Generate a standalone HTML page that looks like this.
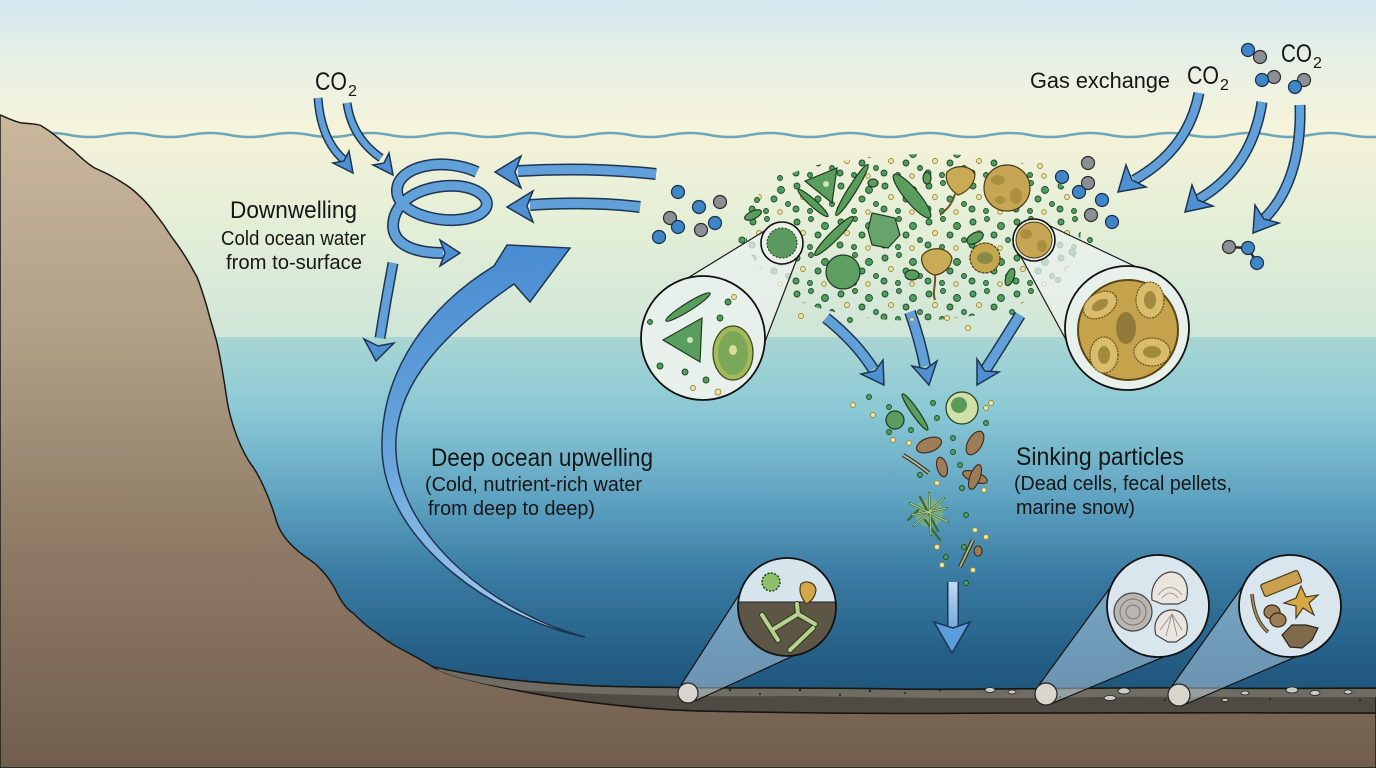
<!DOCTYPE html>
<html><head><meta charset="utf-8"><style>
html,body{margin:0;padding:0;background:#fff}
svg{display:block}
text{font-family:"Liberation Sans",sans-serif;fill:#161616}
.so{fill:none;stroke:#1d3550}
.si{fill:none;stroke:#62a0da}
.hd{fill:#4f90d2;stroke:#1d3550;stroke-width:1.5;stroke-linejoin:miter}
.mb{fill:#3f86c9;stroke:#1a2e48;stroke-width:1.2}
.mg{fill:#8c9096;stroke:#2a2a2a;stroke-width:1.2}
.gd{fill:#4f9d5c;stroke:#1f4a2a;stroke-width:.9}
.yd{fill:#ece4a8;stroke:#9a8a3a;stroke-width:.9}
.org{fill:#5a9e5e;stroke:#1e3a22;stroke-width:1.2}
.yel{fill:#c9ab55;stroke:#4a3a15;stroke-width:1.2}
.br{fill:#9c7d56;stroke:#3a2a1a;stroke-width:1.1}
</style></head><body>
<svg width="1376" height="768" viewBox="0 0 1376 768" xmlns="http://www.w3.org/2000/svg">
<defs>
<linearGradient id="sky" x1="0" y1="0" x2="0" y2="137" gradientUnits="userSpaceOnUse">
<stop offset="0" stop-color="#d3e7ef"/><stop offset=".45" stop-color="#e7f0e4"/><stop offset="1" stop-color="#f7f4da"/></linearGradient>
<linearGradient id="uw" x1="0" y1="135" x2="0" y2="337" gradientUnits="userSpaceOnUse">
<stop offset="0" stop-color="#f3f2d8"/><stop offset=".5" stop-color="#e2eed7"/><stop offset="1" stop-color="#cfe5d8"/></linearGradient>
<linearGradient id="dw" x1="0" y1="337" x2="0" y2="700" gradientUnits="userSpaceOnUse">
<stop offset="0" stop-color="#a9d6d4"/><stop offset=".2" stop-color="#8bc9d5"/><stop offset=".45" stop-color="#5ea2c1"/><stop offset=".65" stop-color="#3a7ca3"/><stop offset=".85" stop-color="#27628a"/><stop offset="1" stop-color="#1e5379"/></linearGradient>
<linearGradient id="land" x1="0" y1="100" x2="0" y2="768" gradientUnits="userSpaceOnUse">
<stop offset="0" stop-color="#ccb99e"/><stop offset=".35" stop-color="#b19f86"/><stop offset=".68" stop-color="#8d7964"/><stop offset="1" stop-color="#725e4d"/></linearGradient>
<linearGradient id="bigA" x1="585" y1="637" x2="540" y2="250" gradientUnits="userSpaceOnUse">
<stop offset="0" stop-color="#a8cdec"/><stop offset=".5" stop-color="#6aa6dc"/><stop offset="1" stop-color="#4b8dd2"/></linearGradient>
<linearGradient id="botA" x1="0" y1="580" x2="0" y2="640" gradientUnits="userSpaceOnUse">
<stop offset="0" stop-color="#c4def2"/><stop offset="1" stop-color="#5d9ddb"/></linearGradient>
<pattern id="dots" width="44" height="36" patternUnits="userSpaceOnUse">
<circle class="gd" cx="5" cy="6" r="3"/><circle class="gd" cx="19" cy="3" r="2.5"/><circle class="gd" cx="33" cy="10" r="3.5"/>
<circle class="yd" cx="11" cy="17" r="2.5"/><circle class="gd" cx="26" cy="19" r="3"/><circle class="gd" cx="40" cy="24" r="2.5"/>
<circle class="gd" cx="4" cy="29" r="3"/><circle class="gd" cx="18" cy="31" r="2.5"/><circle class="yd" cx="32" cy="32" r="2.3"/>
</pattern>
<clipPath id="c1"><circle cx="787" cy="607" r="49"/></clipPath>
</defs>

<!-- background -->
<rect x="0" y="0" width="1376" height="137" fill="url(#sky)"/>
<rect x="0" y="135" width="1376" height="202" fill="url(#uw)"/>
<rect x="0" y="337" width="1376" height="380" fill="url(#dw)"/>

<!-- wave -->
<path d="M30,135 q20,-4 40,0 t40,0 t40,0 t40,0 t40,0 t40,0 t40,0 t40,0 t40,0 t40,0 t40,0 t40,0 t40,0 t40,0 t40,0 t40,0 t40,0 t40,0 t40,0 t40,0 t40,0 t40,0 t40,0 t40,0 t40,0 t40,0 t40,0 t40,0 t40,0 t40,0 t40,0 t40,0 t40,0 t40,0" fill="none" stroke="#6aa8b8" stroke-width="2.5"/>

<!-- land -->
<path d="M0,115 C10,119 18,123 23,123 C33,124 40,124 43,127 C50,131 52,133 57,137 C63,142 68,147 73,150 C80,157 87,163 93,167 C100,171 107,173 113,177 C120,181 127,185 133,190 C140,196 145,201 150,207 C156,215 162,222 167,230 C172,238 178,245 183,253 C189,262 193,270 197,277 C201,287 204,297 207,307 C210,319 214,331 217,343 C221,360 224,380 227,400 C230,420 240,450 253,467 C262,480 272,505 277,523 C283,540 298,552 310,560 C322,568 332,582 337,593 C342,603 348,610 353,613 C362,622 370,629 377,633 C385,640 395,646 403,650 C412,655 422,660 433,667 L446,673 C500,690 600,708 700,711 C800,713 900,714 1000,713 C1100,712 1250,713 1376,713 L1376,768 L0,768 Z" fill="url(#land)" stroke="#1a1a1a" stroke-width="1.5"/>
<!-- sediment -->
<path d="M433,667 C470,675 520,683 600,686 C700,689 800,687 900,689 C1000,690 1100,687 1200,688 C1300,689 1340,688 1376,688 L1376,713 C1250,713 1100,712 1000,713 C900,714 800,713 700,711 C600,708 500,690 446,673 Z" fill="#4f4b43" stroke="#151515" stroke-width="1.5"/>
<path d="M436,668 C470,676 520,684 600,687 C700,690 800,688 900,690 C1000,691 1100,688 1200,689 C1300,690 1340,689 1376,689 L1376,697 C1300,698 1200,696 1100,697 C1000,699 900,698 800,696 C700,697 600,695 520,690 C480,684 455,677 440,671 Z" fill="#716c62"/>
<g fill="#cfcbc3" stroke="#222" stroke-width=".8">
<ellipse cx="990" cy="690" rx="5" ry="2.5"/><ellipse cx="1012" cy="692" rx="4" ry="2"/><ellipse cx="1110" cy="698" rx="6" ry="2.5"/><ellipse cx="1124" cy="691" rx="6" ry="3"/><ellipse cx="1245" cy="693" rx="4" ry="2"/><ellipse cx="1292" cy="690" rx="6" ry="3"/><ellipse cx="1315" cy="693" rx="5" ry="2.5"/><ellipse cx="1348" cy="692" rx="4" ry="2"/><ellipse cx="1225" cy="700" rx="3" ry="1.5"/>
</g>
<g fill="#222"><circle cx="730" cy="690" r="1.2"/><circle cx="760" cy="694" r="1"/><circle cx="800" cy="690" r="1.2"/><circle cx="840" cy="695" r="1"/><circle cx="870" cy="691" r="1.2"/><circle cx="905" cy="693" r="1"/><circle cx="940" cy="690" r="1.2"/><circle cx="1060" cy="697" r="1"/><circle cx="1165" cy="700" r="1"/><circle cx="1270" cy="699" r="1"/><circle cx="1360" cy="700" r="1"/></g>

<!-- big upwelling arrow -->
<path d="M585,637 C500,620 385,545 382,450 C380,370 430,305 494,266 L507,245 L570,248 L530,302 L514,284 C455,325 392,380 396,452 C400,540 500,615 585,637 Z" fill="url(#bigA)" stroke="#1d3550" stroke-width="1.5" stroke-linejoin="miter"/>

<!-- CO2 left arrows -->
<path class="so" stroke-width="9" d="M318,98 Q321,140 344,160"/><path class="si" stroke-width="6" d="M318,98 Q321,140 344,160"/>
<polygon class="hd" points="353,173 349,151 344,161 333,163"/>
<path class="so" stroke-width="9" d="M347,103 Q352,138 381,158"/><path class="si" stroke-width="6" d="M347,103 Q352,138 381,158"/>
<polygon class="hd" points="393,175 389,153 384,163 373,165"/>

<!-- spiral -->
<path class="so" stroke-width="12" d="M477,172 C445,157 398,165 397,190 C396,215 450,228 478,215 C500,203 478,183 445,186 C412,189 394,205 393,225 C393,245 415,253 443,253"/>
<path class="si" stroke-width="9" d="M477,172 C445,157 398,165 397,190 C396,215 450,228 478,215 C500,203 478,183 445,186 C412,189 394,205 393,225 C393,245 415,253 443,253"/>
<polygon class="hd" points="460,253 440,240 445,253 440,266"/>

<!-- down arrow -->
<path class="so" stroke-width="11" d="M393,263 Q386,300 380,338"/><path class="si" stroke-width="8" d="M393,263 Q386,300 380,338"/>
<polygon class="hd" points="376,361 394,343 378,346 364,339"/>

<!-- left pointing arrows -->
<path class="so" stroke-width="12" d="M656,174 Q590,167 518,171"/><path class="si" stroke-width="9" d="M656,174 Q590,167 518,171"/>
<polygon class="hd" points="495,172 521,156 515,172 521,188"/>
<path class="so" stroke-width="12" d="M640,207 Q590,201 530,205"/><path class="si" stroke-width="9" d="M640,207 Q590,201 530,205"/>
<polygon class="hd" points="507,207 533,191 527,206 533,222"/>

<!-- right CO2 arrows -->
<path class="so" stroke-width="11" d="M1199,93 Q1188,150 1134,180"/><path class="si" stroke-width="8" d="M1199,93 Q1188,150 1134,180"/>
<polygon class="hd" points="1118,192 1146,187 1132,180 1126,165"/>
<path class="so" stroke-width="11" d="M1262,102 Q1252,168 1199,199"/><path class="si" stroke-width="8" d="M1262,102 Q1252,168 1199,199"/>
<polygon class="hd" points="1185,212 1213,206 1198,200 1192,185"/>
<path class="so" stroke-width="11" d="M1300,105 Q1302,180 1265,218"/><path class="si" stroke-width="8" d="M1300,105 Q1302,180 1265,218"/>
<polygon class="hd" points="1253,233 1279,223 1264,219 1255,205"/>

<!-- sinking arrows -->
<path class="so" stroke-width="12" d="M826,318 Q856,342 873,369"/><path class="si" stroke-width="9" d="M826,318 Q856,342 873,369"/>
<polygon class="hd" points="884,385 883,360 875,371 861,374"/>
<path class="so" stroke-width="12" d="M910,312 Q920,340 925,366"/><path class="si" stroke-width="9" d="M910,312 Q920,340 925,366"/>
<polygon class="hd" points="929,385 937,361 926,369 912,366"/>
<path class="so" stroke-width="12" d="M1020,315 Q1002,344 986,369"/><path class="si" stroke-width="9" d="M1020,315 Q1002,344 986,369"/>
<polygon class="hd" points="977,385 999,372 985,371 977,359"/>
<path stroke="#1d3550" stroke-width="12" fill="none" d="M953,582 L953,628"/><path stroke="url(#botA)" stroke-width="9" fill="none" d="M953,582 L953,628"/>
<polygon class="hd" points="952,653 970,622 953,628 934,622" style="fill:#5d9ddb"/>

<!-- molecules -->
<g>
<circle class="mb" cx="678" cy="192" r="6.5"/><circle class="mb" cx="699" cy="207" r="6.5"/><circle class="mg" cx="720" cy="202" r="6.5"/><circle class="mb" cx="715" cy="223" r="6.5"/><circle class="mg" cx="670" cy="218" r="6.5"/><circle class="mb" cx="678" cy="227" r="6.5"/><circle class="mg" cx="701" cy="230" r="6.5"/><circle class="mb" cx="659" cy="237" r="6.5"/>
<circle class="mg" cx="1088" cy="163" r="6.5"/><circle class="mb" cx="1062" cy="177" r="6.5"/><circle class="mg" cx="1088" cy="183" r="6.5"/><circle class="mb" cx="1079" cy="192" r="6.5"/><circle class="mb" cx="1102" cy="200" r="6.5"/><circle class="mg" cx="1091" cy="215" r="6.5"/><circle class="mb" cx="1112" cy="222" r="6.5"/>
<circle class="mg" cx="1260" cy="57" r="6.5"/><circle class="mb" cx="1248" cy="50" r="6.5"/><circle class="mg" cx="1274" cy="77" r="6.5"/><circle class="mb" cx="1262" cy="80" r="6.5"/><circle class="mg" cx="1304" cy="80" r="6.5"/><circle class="mb" cx="1295" cy="87" r="6.5"/>
<path d="M1229,247 L1248,248 L1257,263" stroke="#2a2a2a" stroke-width="2.5" fill="none"/>
<circle class="mg" cx="1229" cy="247" r="6.5"/><circle class="mb" cx="1248" cy="248" r="6.5"/><circle class="mb" cx="1257" cy="263" r="6.5"/>
</g>

<!-- plankton cluster dots -->
<path d="M745,220 C750,190 790,165 850,160 C900,152 960,152 1010,160 C1050,168 1075,190 1080,215 C1085,250 1070,280 1030,300 C990,318 920,325 870,318 C820,312 785,300 770,280 C755,265 742,245 745,220 Z" fill="url(#dots)"/>
<g class="gd"><circle cx="742" cy="240" r="3"/><circle cx="757" cy="200" r="2.5"/><circle cx="780" cy="178" r="2.5"/><circle cx="1090" cy="240" r="2.5"/><circle cx="1072" cy="252" r="3"/><circle cx="1058" cy="280" r="2.5"/><circle cx="850" cy="320" r="2.5"/><circle cx="1012" cy="312" r="2.5"/></g>
<g class="yd"><circle cx="801" cy="316" r="2.5"/><circle cx="947" cy="318" r="2.5"/><circle cx="968" cy="328" r="2.5"/><circle cx="1040" cy="166" r="2.5"/></g>

<!-- cone top-left -->
<polygon points="766,230 798,256 751,378 655,298" fill="#eaf2ee" fill-opacity=".75"/>
<line x1="766" y1="230" x2="655" y2="298" stroke="#1a1a1a" stroke-width="1.2"/>
<line x1="798" y1="256" x2="751" y2="378" stroke="#1a1a1a" stroke-width="1.2"/>
<!-- cone top-right -->
<polygon points="1048,225 1020,255 1084,373 1170,283" fill="#eaf2ee" fill-opacity=".75"/>
<line x1="1048" y1="225" x2="1170" y2="283" stroke="#1a1a1a" stroke-width="1.2"/>
<line x1="1020" y1="255" x2="1084" y2="373" stroke="#1a1a1a" stroke-width="1.2"/>

<!-- big organisms -->
<polygon class="org" points="805,181 837,168 832,203"/><circle cx="826" cy="184" r="3" fill="#cfe4b8"/>
<ellipse class="org" cx="813" cy="203" rx="20" ry="3.5" transform="rotate(42 813 203)"/>
<ellipse class="org" cx="852" cy="190" rx="30" ry="4" transform="rotate(-58 852 190)"/>
<ellipse class="org" cx="834" cy="236" rx="27" ry="4.5" transform="rotate(-45 834 236)"/>
<ellipse class="org" cx="912" cy="196" rx="28" ry="7" transform="rotate(50 912 196)"/>
<ellipse class="org" cx="753" cy="215" rx="9" ry="4" transform="rotate(-25 753 215)"/>
<ellipse class="org" cx="873" cy="183" rx="5" ry="4"/><ellipse class="org" cx="927" cy="178" rx="4" ry="6"/>
<ellipse class="org" cx="912" cy="275" rx="7" ry="5"/><ellipse class="org" cx="975" cy="238" rx="9" ry="5" transform="rotate(-30 975 238)"/>
<ellipse class="org" cx="1010" cy="277" rx="4" ry="9" transform="rotate(20 1010 277)"/>
<circle class="org" cx="843" cy="272" r="17" style="fill:#5f9e63"/>
<polygon class="org" points="872,213 895,218 900,235 888,248 872,245 868,230" style="fill:#67a36a"/>
<path class="yel" d="M947,172 C955,164 972,165 975,175 C974,186 965,193 958,195 C950,190 944,180 947,172 Z"/>
<path d="M955,194 C952,205 946,210 940,215" stroke="#6a5520" stroke-width="2" fill="none"/>
<path class="yel" d="M922,256 C928,246 948,246 952,258 C951,268 942,275 934,275 C926,272 920,264 922,256 Z"/>
<path d="M935,275 C936,285 932,292 935,300" stroke="#6a5520" stroke-width="2" fill="none"/>
<circle class="yel" cx="1007" cy="188" r="23" style="fill:#c6a654"/>
<ellipse cx="998" cy="180" rx="7" ry="5" fill="#a8903f"/><ellipse cx="1016" cy="196" rx="6" ry="8" fill="#a8903f"/><ellipse cx="1000" cy="200" rx="5" ry="4" fill="#a8903f"/>
<circle class="yel" cx="985" cy="258" r="15" style="fill:#c4a850;stroke-dasharray:3 1"/><ellipse cx="985" cy="258" rx="8" ry="6" fill="#8a8a45"/>
<!-- small source circles -->
<circle cx="782" cy="243" r="21" fill="#e9f0e6" stroke="#111" stroke-width="1.6"/><circle cx="782" cy="243" r="15" fill="#5a9a5e" stroke="#1e3a22" stroke-width="1" stroke-dasharray="2 1.5"/>
<circle cx="1034" cy="240" r="21" fill="#e9f0e6" stroke="#111" stroke-width="1.6"/><circle cx="1034" cy="240" r="18" fill="#c6a654" stroke="#4a3a15" stroke-width="1"/>
<ellipse cx="1026" cy="234" rx="6" ry="5" fill="#a8903f"/><ellipse cx="1042" cy="246" rx="5" ry="6" fill="#a8903f"/>

<!-- big magnifier left -->
<circle cx="703" cy="338" r="62" fill="#e7f0ea" stroke="#111" stroke-width="1.8"/>
<ellipse class="org" cx="688" cy="307" rx="26" ry="4" transform="rotate(-32 688 307)"/>
<polygon class="org" points="663,340 702,318 700,362"/><circle cx="690" cy="340" r="3" fill="#cfe4b8"/>
<ellipse cx="733" cy="353" rx="20" ry="27" fill="#a6b95a" stroke="#3a4a1a" stroke-width="1.3"/>
<ellipse cx="733" cy="353" rx="15" ry="22" fill="#7aa858"/><ellipse cx="733" cy="350" rx="4" ry="5" fill="#dcdc98"/>
<g class="gd"><circle cx="660" cy="366" r="3"/><circle cx="685" cy="372" r="3"/><circle cx="706" cy="380" r="3"/><circle cx="728" cy="302" r="3"/><circle cx="720" cy="318" r="3"/><circle cx="650" cy="322" r="2.5"/></g>
<g class="yd"><circle cx="718" cy="392" r="3"/><circle cx="734" cy="297" r="2.5"/><circle cx="693" cy="388" r="2.5"/></g>

<!-- big magnifier right -->
<circle cx="1127" cy="328" r="62" fill="#e7f0ea" stroke="#111" stroke-width="1.8"/>
<circle cx="1128" cy="330" r="50" fill="#c5a24c" stroke="#5a4515" stroke-width="2"/>
<g fill="#d9bd6a" stroke="#6a5520" stroke-width="1.3" stroke-dasharray="2 1">
<ellipse cx="1100" cy="305" rx="18" ry="12" transform="rotate(-30 1100 305)"/>
<ellipse cx="1150" cy="300" rx="14" ry="18"/>
<ellipse cx="1152" cy="352" rx="18" ry="14"/>
<ellipse cx="1104" cy="355" rx="14" ry="18"/>
</g>
<g fill="#a08a3e"><ellipse cx="1100" cy="305" rx="9" ry="5" transform="rotate(-30 1100 305)"/><ellipse cx="1150" cy="300" rx="6" ry="9"/><ellipse cx="1152" cy="352" rx="9" ry="6"/><ellipse cx="1104" cy="355" rx="6" ry="9"/></g>
<ellipse cx="1126" cy="328" rx="10" ry="16" fill="#8f7a3a"/>

<!-- sinking particles -->
<g class="gd"><circle cx="869" cy="397" r="2.5"/><circle cx="889" cy="407" r="2.5"/><circle cx="889" cy="432" r="2.5"/><circle cx="911" cy="430" r="2.5"/><circle cx="933" cy="403" r="2.5"/><circle cx="937" cy="418" r="2.5"/><circle cx="953" cy="438" r="2.5"/><circle cx="953" cy="452" r="2.5"/><circle cx="986" cy="423" r="2.5"/><circle cx="960" cy="465" r="2.5"/><circle cx="920" cy="475" r="2.5"/><circle cx="962" cy="488" r="2.5"/><circle cx="966" cy="515" r="2.5"/><circle cx="964" cy="547" r="2.5"/><circle cx="946" cy="557" r="2.5"/><circle cx="966" cy="583" r="2.5"/></g>
<g class="yd"><circle cx="853" cy="405" r="2.5"/><circle cx="873" cy="415" r="2.5"/><circle cx="893" cy="440" r="2.5"/><circle cx="909" cy="443" r="2.5"/><circle cx="986" cy="408" r="2.5"/><circle cx="991" cy="403" r="2.5"/><circle cx="937" cy="483" r="2.5"/><circle cx="984" cy="490" r="2.5"/><circle cx="975" cy="530" r="2.5"/><circle cx="986" cy="537" r="2.5"/><circle cx="937" cy="547" r="2.5"/><circle cx="942" cy="565" r="2.5"/><circle cx="973" cy="570" r="2.5"/></g>
<circle cx="962" cy="408" r="16" fill="#cfe0a8" stroke="#2a3a1a" stroke-width="1.2"/><circle cx="959" cy="405" r="8" fill="#5a9a5a"/>
<ellipse class="org" cx="915" cy="412" rx="22" ry="3.5" transform="rotate(55 915 412)"/>
<circle class="org" cx="895" cy="420" r="9"/>
<ellipse class="br" cx="929" cy="445" rx="13" ry="7" transform="rotate(-20 929 445)"/>
<ellipse class="br" cx="975" cy="443" rx="7" ry="13" transform="rotate(30 975 443)"/>
<ellipse class="br" cx="942" cy="467" rx="5" ry="10" transform="rotate(-15 942 467)"/>
<ellipse class="br" cx="975" cy="477" rx="13" ry="5" transform="rotate(20 975 477)"/>
<ellipse class="br" cx="975" cy="477" rx="13" ry="5" transform="rotate(-70 975 477)"/>
<path d="M903,455 Q915,462 929,473" stroke="#2a2a1a" stroke-width="4" fill="none"/><path d="M903,455 Q915,462 929,473" stroke="#b9b090" stroke-width="2" fill="none"/>
<circle cx="929" cy="513" r="14" fill="#8fb86a" fill-opacity=".55"/>
<g stroke="#3d6a2e" stroke-width="2.2" fill="none" stroke-linecap="round"><path d="M910,503 L948,522 M914,526 L944,498 M929,493 L931,535 M912,515 L947,508 M920,497 L938,531 M925,520 L940,540 M918,510 L908,520"/></g>
<g stroke="#b5d28a" stroke-width="1" fill="none"><path d="M910,503 L948,522 M914,526 L944,498 M929,493 L931,535 M912,515 L947,508"/></g>
<line x1="960" y1="567" x2="973" y2="540" stroke="#2a2a1a" stroke-width="4"/><line x1="960" y1="567" x2="973" y2="540" stroke="#b9b070" stroke-width="2"/>
<ellipse class="br" cx="978" cy="551" rx="4" ry="5"/>

<!-- seabed magnifiers -->
<polygon points="681,685 695,701 819,644 755,570" fill="#c8e0f0" fill-opacity=".45"/>
<line x1="681" y1="685" x2="755" y2="570" stroke="#111" stroke-width="1.2"/><line x1="695" y1="701" x2="819" y2="644" stroke="#111" stroke-width="1.2"/>
<polygon points="1039,685 1053,703 1190,646 1126,566" fill="#c8e0f0" fill-opacity=".45"/>
<line x1="1039" y1="685" x2="1126" y2="566" stroke="#111" stroke-width="1.2"/><line x1="1053" y1="703" x2="1190" y2="646" stroke="#111" stroke-width="1.2"/>
<polygon points="1172,686 1186,704 1321,646 1257,566" fill="#c8e0f0" fill-opacity=".45"/>
<line x1="1172" y1="686" x2="1257" y2="566" stroke="#111" stroke-width="1.2"/><line x1="1186" y1="704" x2="1321" y2="646" stroke="#111" stroke-width="1.2"/>
<circle cx="688" cy="693" r="10" fill="#d8d6cc" stroke="#222" stroke-width="1.2"/>
<circle cx="1046" cy="694" r="11" fill="#d8d6cc" stroke="#222" stroke-width="1.2"/>
<circle cx="1179" cy="695" r="11" fill="#d8d6cc" stroke="#222" stroke-width="1.2"/>

<g clip-path="url(#c1)">
<rect x="730" y="550" width="120" height="120" fill="#d6e5ec"/>
<rect x="730" y="602" width="120" height="70" fill="#5d5546"/>
<line x1="730" y1="602" x2="850" y2="602" stroke="#222" stroke-width="1"/>
</g>
<circle cx="787" cy="607" r="49" fill="none" stroke="#111" stroke-width="1.8"/>
<circle cx="771" cy="582" r="9" fill="#8cc06a" stroke="#2a3a1a" stroke-width="1.5" stroke-dasharray="2 1.5"/>
<path d="M801,584 C806,580 815,582 816,590 C815,598 810,602 806,604 C802,598 798,592 801,584 Z" fill="#d2a84a" stroke="#4a3a15" stroke-width="1.2"/>
<g stroke="#2a3a1a" stroke-width="6" fill="none" stroke-linecap="round"><path d="M762,615 L778,640 M772,630 L798,614 L815,624 M798,614 L797,604 M813,628 L790,650"/></g>
<g stroke="#b8d090" stroke-width="4" fill="none" stroke-linecap="round"><path d="M762,615 L778,640 M772,630 L798,614 L815,624 M798,614 L797,604 M813,628 L790,650"/></g>

<circle cx="1158" cy="606" r="51" fill="#d9e6ee" stroke="#111" stroke-width="1.8"/>
<circle cx="1133" cy="612" r="19" fill="#b9b5b0" stroke="#444" stroke-width="1.2"/>
<circle cx="1133" cy="612" r="13" fill="none" stroke="#777" stroke-width="1"/><circle cx="1133" cy="612" r="7" fill="none" stroke="#777" stroke-width="1"/>
<path d="M1152,600 C1150,585 1160,572 1172,572 C1185,573 1190,587 1186,600 L1178,604 L1162,604 Z" fill="#ebe5df" stroke="#444" stroke-width="1.2"/>
<path d="M1156,635 C1152,622 1160,610 1172,610 C1184,610 1190,622 1186,635 L1176,642 L1168,642 Z" fill="#ebe5df" stroke="#444" stroke-width="1.2"/>
<g stroke="#888" stroke-width=".8" fill="none"><path d="M1158,595 Q1170,580 1182,595 M1162,598 Q1170,588 1178,598 M1160,630 L1172,614 L1182,630 M1166,636 L1172,614 L1177,636"/></g>

<circle cx="1290" cy="606" r="51" fill="#d9e6ee" stroke="#111" stroke-width="1.8"/>
<rect x="1261" y="577" width="40" height="13" rx="2" fill="#c9a050" stroke="#4a3a15" stroke-width="1.2" transform="rotate(-22 1281 583)"/>
<path d="M1301,586 L1306,597 L1318,595 L1309,603 L1314,615 L1303,608 L1296,618 L1296,606 L1284,603 L1296,598 Z" fill="#d8a845" stroke="#4a3a15" stroke-width="1.2"/>
<ellipse cx="1272" cy="612" rx="8" ry="7" fill="#9c7d56" stroke="#3a2a1a" stroke-width="1.2"/><ellipse cx="1278" cy="620" rx="8" ry="7" fill="#9c7d56" stroke="#3a2a1a" stroke-width="1.2"/>
<path d="M1282,635 L1292,625 L1306,625 L1318,628 L1312,640 L1302,648 L1290,647 Z" fill="#7f6a4c" stroke="#2a2015" stroke-width="1.2"/>
<path d="M1252,594 Q1254,620 1268,632" stroke="#3a2a1a" stroke-width="3.5" fill="none"/><path d="M1252,594 Q1254,620 1268,632" stroke="#a08a60" stroke-width="1.8" fill="none"/>

<!-- text -->
<text x="315" y="90" font-size="25" textLength="32" lengthAdjust="spacingAndGlyphs">CO</text><text x="348" y="96" font-size="16">2</text>
<text x="230" y="218" font-size="24" textLength="127" lengthAdjust="spacingAndGlyphs">Downwelling</text>
<text x="221" y="245" font-size="20" textLength="145" lengthAdjust="spacingAndGlyphs">Cold ocean water</text>
<text x="226" y="269" font-size="20" textLength="136" lengthAdjust="spacingAndGlyphs">from to-surface</text>
<text x="431" y="466" font-size="25" textLength="222" lengthAdjust="spacingAndGlyphs">Deep ocean upwelling</text>
<text x="425" y="491" font-size="20" textLength="217" lengthAdjust="spacingAndGlyphs">(Cold, nutrient-rich water</text>
<text x="428" y="515" font-size="20" textLength="167" lengthAdjust="spacingAndGlyphs">from deep to deep)</text>
<text x="1030" y="88" font-size="22" textLength="140" lengthAdjust="spacingAndGlyphs">Gas exchange</text>
<text x="1187" y="84" font-size="25" textLength="32" lengthAdjust="spacingAndGlyphs">CO</text><text x="1220" y="90" font-size="16">2</text>
<text x="1281" y="62" font-size="25" textLength="31" lengthAdjust="spacingAndGlyphs">CO</text><text x="1313" y="68" font-size="16">2</text>
<text x="1016" y="465" font-size="25" textLength="168" lengthAdjust="spacingAndGlyphs">Sinking particles</text>
<text x="1014" y="490" font-size="20" textLength="218" lengthAdjust="spacingAndGlyphs">(Dead cells, fecal pellets,</text>
<text x="1016" y="514" font-size="20" textLength="119" lengthAdjust="spacingAndGlyphs">marine snow)</text>
</svg>
</body></html>
